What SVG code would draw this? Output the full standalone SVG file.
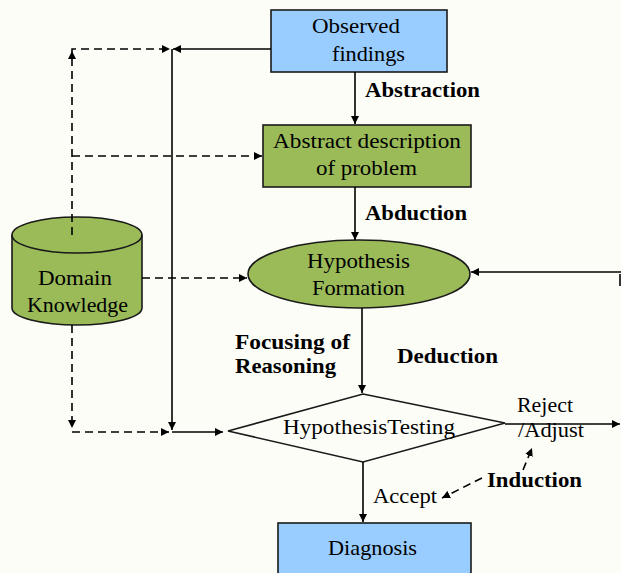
<svg xmlns="http://www.w3.org/2000/svg" width="621" height="573" viewBox="0 0 621 573">
<defs>
<marker id="arr" markerUnits="userSpaceOnUse" markerWidth="9" markerHeight="8" refX="8" refY="4" orient="auto">
<path d="M0,0 L8,4 L0,8 z" fill="#000"/>
</marker>
<style>
.t{font-family:"Liberation Serif","Times New Roman",serif;font-size:22px;fill:#000}
.b{font-family:"Liberation Serif","Times New Roman",serif;font-size:21px;font-weight:bold;fill:#000}
.n{stroke:#1a1a1a;stroke-width:1.6}
.blue{fill:#99ccff}
.green{fill:#9bbb59}
.s{fill:none;stroke:#000;stroke-width:1.6}
.d{fill:none;stroke:#000;stroke-width:1.6;stroke-dasharray:8 5}
.a{marker-end:url(#arr)}
</style>
</defs>
<rect width="621" height="573" fill="#fdfdf8"/>

<g id="observed">
<rect class="n blue" x="271" y="10" width="176" height="62"/>
<text class="t" x="312" y="33" textLength="88" lengthAdjust="spacingAndGlyphs">Observed</text>
<text class="t" x="332" y="61" textLength="73" lengthAdjust="spacingAndGlyphs">findings</text>
</g>

<g id="abstract">
<rect class="n green" x="263" y="125" width="208" height="62"/>
<text class="t" x="273" y="148" textLength="188" lengthAdjust="spacingAndGlyphs">Abstract description</text>
<text class="t" x="316" y="175" textLength="101" lengthAdjust="spacingAndGlyphs">of problem</text>
</g>

<g id="hypothesis-formation">
<ellipse class="n green" cx="359" cy="274" rx="111" ry="34"/>
<text class="t" x="307" y="268" textLength="103" lengthAdjust="spacingAndGlyphs">Hypothesis</text>
<text class="t" x="312" y="295" textLength="93" lengthAdjust="spacingAndGlyphs">Formation</text>
</g>

<g id="domain-knowledge">
<path class="n green" d="M12,235 L12,308 A65,17 0 0 0 142,308 L142,235 A65,18 0 0 0 12,235 z"/>
<path class="n" fill="none" d="M12,235 A65,18 0 0 0 142,235"/>
<text class="t" x="38" y="285" textLength="74" lengthAdjust="spacingAndGlyphs">Domain</text>
<text class="t" x="27" y="312" textLength="101" lengthAdjust="spacingAndGlyphs">Knowledge</text>
</g>

<g id="hypothesis-testing">
<path class="n" fill="#fdfdf8" d="M363,394 L505,423 L363,462 L228,431 z"/>
<text class="t" x="283" y="434" textLength="172" lengthAdjust="spacingAndGlyphs">HypothesisTesting</text>
</g>

<g id="diagnosis">
<rect class="n blue" x="278" y="523" width="193" height="60"/>
<text class="t" x="328" y="555" textLength="89" lengthAdjust="spacingAndGlyphs">Diagnosis</text>
</g>

<g id="connectors">
<line class="s a" x1="355" y1="72" x2="355" y2="124"/>
<line class="s a" x1="355" y1="187" x2="355" y2="240"/>
<line class="s a" x1="362" y1="308" x2="362" y2="393"/>
<line class="s a" x1="363" y1="462" x2="363" y2="522"/>
<line class="s a" x1="621" y1="272" x2="471" y2="272"/>
<line class="s" x1="620" y1="274" x2="620" y2="286"/>
<line class="s a" x1="505" y1="424" x2="620" y2="424"/>
<line class="s a" x1="271" y1="49" x2="173" y2="49"/>
<line class="s a" x1="172" y1="49" x2="172" y2="430"/>
<line class="s a" x1="172" y1="432" x2="223" y2="432"/>
<path class="d a" d="M72,235 L72,49 L170,49"/>
<path d="M72,51 L76,59 L68,59 z" fill="#000"/>
<line class="d a" x1="72" y1="156" x2="262" y2="156"/>
<line class="d a" x1="142" y1="278" x2="247" y2="278"/>
<path class="d a" d="M72,325 L72,428"/>
<path class="d a" d="M72,432 L169,432"/>
<line class="d a" x1="482" y1="478" x2="442" y2="498"/>
<line class="d a" x1="523" y1="470" x2="532" y2="448"/>
</g>

<g id="labels">
<text class="b" x="365" y="97" textLength="115" lengthAdjust="spacingAndGlyphs">Abstraction</text>
<text class="b" x="365" y="220" textLength="102" lengthAdjust="spacingAndGlyphs">Abduction</text>
<text class="b" x="235" y="349" textLength="115" lengthAdjust="spacingAndGlyphs">Focusing of</text>
<text class="b" x="235" y="373" textLength="101" lengthAdjust="spacingAndGlyphs">Reasoning</text>
<text class="b" x="397" y="363" textLength="101" lengthAdjust="spacingAndGlyphs">Deduction</text>
<text class="t" x="517" y="412" textLength="56" lengthAdjust="spacingAndGlyphs">Reject</text>
<text class="t" x="518" y="437" textLength="66" lengthAdjust="spacingAndGlyphs">/Adjust</text>
<text class="b" x="487" y="487" textLength="95" lengthAdjust="spacingAndGlyphs">Induction</text>
<text class="t" x="373" y="503" textLength="64" lengthAdjust="spacingAndGlyphs">Accept</text>
</g>
</svg>
